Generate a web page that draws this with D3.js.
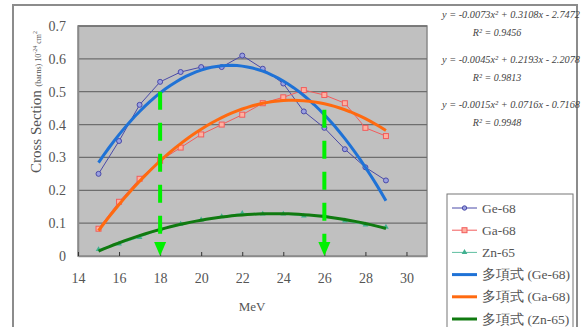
<!DOCTYPE html>
<html>
<head>
<meta charset="utf-8">
<script src="https://cdn.jsdelivr.net/npm/d3@7"></script>
<style>
body{margin:0;background:#fff;}
svg{display:block;font-family:"Liberation Serif","Times New Roman",serif;}
</style>
</head>
<body>
<div id="plot"></div>
<script>
// data
var energy = [15,16,17,18,19,20,21,22,23,24,25,26,27,28,29];
var ge68 = [0.25,0.35,0.46,0.53,0.56,0.575,0.575,0.61,0.57,0.525,0.44,0.39,0.325,0.27,0.23];
var ga68 = [0.083,0.165,0.235,0.29,0.33,0.37,0.40,0.43,0.465,0.483,0.505,0.49,0.465,0.39,0.365];
var zn65 = [0.02,0.037,0.057,0.08,0.097,0.11,0.12,0.13,0.128,0.128,0.122,0.125,0.107,0.095,0.088];
var seriesNames = ['Ge-68','Ga-68','Zn-65'];
var trendNames = ['多項式 (Ge-68)','多項式 (Ga-68)','多項式 (Zn-65)'];
var equations = ['y = -0.0073x\u00b2 + 0.3108x - 2.7472','y = -0.0045x\u00b2 + 0.2193x - 2.2078','y = -0.0015x\u00b2 + 0.0716x - 0.7168'];
var rSquared = ['R\u00b2 = 0.9456','R\u00b2 = 0.9813','R\u00b2 = 0.9948'];
var xTicks = [14,16,18,20,22,24,26,28,30];
var yTicks = [0,0.1,0.2,0.3,0.4,0.5,0.6,0.7];
var markEnergy = [18,26];
var markTop = [0.5,0.445];

var W = 582, H = 327;
var svg = d3.select('#plot').append('svg').attr('width',W).attr('height',H);

// outer chart frame
svg.append('rect').attr('x',13).attr('y',5).attr('width',564).attr('height',340)
  .attr('fill','#fff').attr('stroke','#8c8c8c').attr('stroke-width',2);

var x = d3.scaleLinear().domain([14,31]).range([78,427]);
var y = d3.scaleLinear().domain([0,0.7]).range([256,26]);

svg.append('rect').attr('x',78).attr('y',26).attr('width',349).attr('height',230)
  .attr('fill','#c0c0c0').attr('stroke','#8a8a8a').attr('stroke-width',1.5);

// gridlines
svg.append('g').selectAll('line').data(yTicks.slice(1)).enter().append('line')
  .attr('x1',78).attr('x2',427).attr('y1',function(d){return y(d);}).attr('y2',function(d){return y(d);})
  .attr('stroke','#6e6e6e').attr('stroke-width',1.3);

// axes
var yAxis = svg.append('g').attr('transform','translate(78,0)')
  .call(d3.axisLeft(y).tickValues(yTicks).tickSize(0).tickPadding(12).tickFormat(function(d){return d===0?'0':d3.format('.1f')(d);}));
var xAxis = svg.append('g').attr('transform','translate(0,256)')
  .call(d3.axisBottom(x).tickValues(xTicks).tickSizeInner(-4).tickSizeOuter(0).tickPadding(17).tickFormat(d3.format('d')));
[yAxis,xAxis].forEach(function(a){
  a.attr('font-family',null);
  a.select('.domain').attr('stroke','#8a8a8a').attr('stroke-width',1.5);
  a.selectAll('.tick line').attr('stroke','#333');
  a.selectAll('text').attr('font-size',14).attr('fill','#555');
});

// axis titles
svg.append('text').attr('x',252).attr('y',311).attr('text-anchor','middle')
  .attr('font-size',13).attr('fill','#555').text('MeV');
var yt = svg.append('text').attr('transform','translate(41,102) rotate(-90)').attr('text-anchor','middle').attr('fill','#555');
yt.append('tspan').attr('font-size',15).text('Cross Section ');
yt.append('tspan').attr('font-size',8).text('(barns) 10');
yt.append('tspan').attr('font-size',6).attr('dy',-4).text('-24');
yt.append('tspan').attr('font-size',8).attr('dy',4).text(' cm');
yt.append('tspan').attr('font-size',6).attr('dy',-4).text('2');

// least squares quadratic fit (Excel trendline)
function quadFit(xs, ys){
  var s=[0,0,0,0,0], t=[0,0,0];
  xs.forEach(function(xv,i){
    for(var k=0;k<5;k++) s[k]+=Math.pow(xv,k);
    for(var k2=0;k2<3;k2++) t[k2]+=Math.pow(xv,k2)*ys[i];
  });
  var A=[[s[0],s[1],s[2],t[0]],[s[1],s[2],s[3],t[1]],[s[2],s[3],s[4],t[2]]];
  for(var i=0;i<3;i++){
    for(var j=i+1;j<3;j++){
      var f=A[j][i]/A[i][i];
      for(var k=i;k<4;k++) A[j][k]-=f*A[i][k];
    }
  }
  var c=[0,0,0];
  for(var i2=2;i2>=0;i2--){
    var v=A[i2][3];
    for(var k3=i2+1;k3<3;k3++) v-=A[i2][k3]*c[k3];
    c[i2]=v/A[i2][i2];
  }
  return function(xv){return c[0]+c[1]*xv+c[2]*xv*xv;};
}

var allSeries = [ge68,ga68,zn65];
var lineColors = ['#4a4aa8','#f25c5c','#5fbfa0'];
var trendColors = ['#1f72d6','#ff6a10','#107a10'];

var line = d3.line().x(function(d){return x(d[0]);}).y(function(d){return y(d[1]);});

// thin data lines with markers
allSeries.forEach(function(vals,si){
  var pts = energy.map(function(e,i){return [e,vals[i]];});
  svg.append('path').datum(pts).attr('d',line).attr('fill','none')
    .attr('stroke',lineColors[si]).attr('stroke-width',1);
  var g = svg.append('g');
  pts.forEach(function(p){
    if(si===0){
      g.append('circle').attr('cx',x(p[0])).attr('cy',y(p[1])).attr('r',2.5)
        .attr('fill','#9aa0e0').attr('stroke',lineColors[0]).attr('stroke-width',1);
    } else if(si===1){
      g.append('rect').attr('x',x(p[0])-2.5).attr('y',y(p[1])-2.5).attr('width',5).attr('height',5)
        .attr('fill','#ffb0a0').attr('stroke',lineColors[1]).attr('stroke-width',1);
    } else {
      g.append('path').attr('d',d3.symbol().type(d3.symbolTriangle).size(14)())
        .attr('transform','translate('+x(p[0])+','+y(p[1])+')').attr('fill','#40b090');
    }
  });
});

// trendlines
allSeries.forEach(function(vals,si){
  var f = quadFit(energy, vals);
  var pts = d3.range(15,29.01,0.25).map(function(e){return [e,f(e)];});
  svg.append('path').datum(pts).attr('d',line).attr('fill','none')
    .attr('stroke',trendColors[si]).attr('stroke-width',3);
});

// green dashed arrows
markEnergy.forEach(function(e,i){
  svg.append('line').attr('x1',x(e)).attr('x2',x(e)).attr('y1',y(markTop[i])).attr('y2',y(0)-12)
    .attr('stroke','#00f000').attr('stroke-width',4).attr('stroke-dasharray','18,13');
  svg.append('path').attr('d','M'+(x(e)-6)+','+(y(0)-14)+'L'+(x(e)+6)+','+(y(0)-14)+'L'+x(e)+','+y(0)+'Z')
    .attr('fill','#00f000');
});

// equations
var eqG = svg.append('g').attr('font-style','italic').attr('fill','#444').attr('font-size',10);
equations.forEach(function(t,i){
  eqG.append('text').attr('x',442).attr('y',18+i*45).attr('textLength',138).attr('lengthAdjust','spacingAndGlyphs').text(t);
  eqG.append('text').attr('x',497).attr('y',36+i*45).attr('text-anchor','middle').text(rSquared[i]);
});

// legend
svg.append('rect').attr('x',447).attr('y',194).attr('width',126).attr('height',150)
  .attr('fill','#fff').attr('stroke','#777').attr('stroke-width',1);
var legend = svg.append('g');
seriesNames.concat(trendNames).forEach(function(name,i){
  var ly = 208 + i*22.2;
  var si = i%3, isTrend = i>=3;
  legend.append('line').attr('x1',452).attr('x2',477).attr('y1',ly).attr('y2',ly)
    .attr('stroke',isTrend?trendColors[si]:lineColors[si]).attr('stroke-width',isTrend?3:1);
  if(!isTrend){
    if(si===0) legend.append('circle').attr('cx',464.5).attr('cy',ly).attr('r',2.2).attr('fill','#9aa0e0').attr('stroke',lineColors[0]);
    else if(si===1) legend.append('rect').attr('x',462).attr('y',ly-2.5).attr('width',5).attr('height',5).attr('fill','#ffb0a0').attr('stroke',lineColors[1]);
    else legend.append('path').attr('d',d3.symbol().type(d3.symbolTriangle).size(14)()).attr('transform','translate(464.5,'+ly+')').attr('fill','#40b090');
  }
  legend.append('text').attr('x',482).attr('y',ly+4.5).attr('font-size',13.5).attr('fill','#555').text(name);
});
</script>
</body>
</html>
